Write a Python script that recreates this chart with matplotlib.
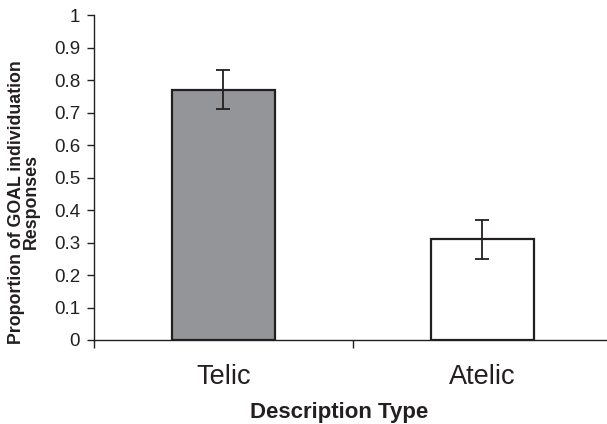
import numpy as np
import matplotlib
matplotlib.use("Agg")
import matplotlib.pyplot as plt

plt.rcParams['font.family'] = ['Liberation Sans', 'DejaVu Sans']

# data
categories = ['Telic', 'Atelic']
proportions = [0.77, 0.31]
errors = [0.06, 0.06]
bar_colors = ['#939598', '#ffffff']
y_ticks = [0, 0.1, 0.2, 0.3, 0.4, 0.5, 0.6, 0.7, 0.8, 0.9, 1]
y_tick_labels = ['0', '0.1', '0.2', '0.3', '0.4', '0.5', '0.6', '0.7', '0.8', '0.9', '1']

dark = '#231f20'
W, H = 607, 424

fig = plt.figure(figsize=(W / 100, H / 100), dpi=100)
ax = fig.add_axes([94 / W, 84 / H, 518 / W, 325 / H])

x = np.arange(len(categories))
ax.bar(x, proportions, width=0.4, color=bar_colors, edgecolor=dark, linewidth=1.6,
       yerr=errors, capsize=5, error_kw=dict(ecolor=dark, elinewidth=1.3, capthick=1.3),
       zorder=2)

ax.set_xlim(-0.5, 1.5)
ax.set_ylim(0, 1)

ax.set_yticks(y_ticks)
ax.set_yticklabels(y_tick_labels, fontsize=13.5, color=dark)
ax.tick_params(axis='y', direction='out', length=5, width=1, color=dark, pad=5)

# category ticks sit between categories (Excel style)
ax.set_xticks([-0.5, 0.5])
ax.set_xticklabels(['', ''])
ax.tick_params(axis='x', direction='out', length=6, width=1, color=dark)
for xi, name in zip(x, categories):
    ax.text(xi, -0.075, name, ha='center', va='top', fontsize=19.5, color=dark,
            transform=ax.get_xaxis_transform())

fig.text(339 / W, 6 / H, 'Description Type', ha='center', va='baseline',
         fontsize=16, fontweight='bold', color=dark)
fig.text(24 / W, 222 / H, 'Proportion of GOAL individuation\nResponses', rotation=90,
         ha='center', va='center', multialignment='center', fontsize=12.8,
         fontweight='bold', color=dark, linespacing=0.9)

for side in ['top', 'right']:
    ax.spines[side].set_visible(False)
for side in ['left', 'bottom']:
    ax.spines[side].set_color(dark)
    ax.spines[side].set_linewidth(1)

fig.savefig('out.png', dpi=100)
